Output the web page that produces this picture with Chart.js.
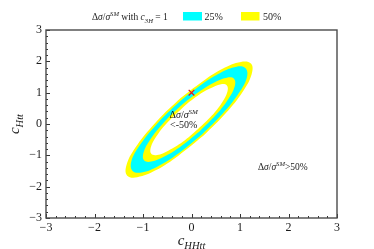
<!DOCTYPE html>
<html>
<head>
<meta charset="utf-8">
<script src="https://cdn.jsdelivr.net/npm/chart.js@4/dist/chart.umd.min.js"></script>
<style>
  html, body { margin: 0; padding: 0; background: #fff; }
  #wrap { width: 374px; height: 249px; }
</style>
</head>
<body>
<div id="wrap"><canvas id="chart"></canvas></div>
<script>
// ── Data ───────────────────────────────────────────────────────────────────
const AXIS_MIN = -3;
const AXIS_MAX = 3;
const SM_POINT = [[0, 1]];

// contour  Δσ/σ = +50%  (outer edge of the yellow band)
const PLUS_50 = [
  [0.25,-0.37],[-0.27,-1.01],[-0.74,-1.48],[-1.12,-1.70],[-1.33,-1.64],[-1.34,-1.31],
  [-1.16,-0.76],[-0.81,-0.07],[-0.35,0.65],[0.17,1.29],[0.64,1.76],[1.02,1.98],
  [1.23,1.92],[1.24,1.59],[1.06,1.04],[0.71,0.35],[0.25,-0.37]
];
// contour  Δσ/σ = +25%  (outer edge of the cyan band)
const PLUS_25 = [
  [0.22,-0.33],[-0.25,-0.92],[-0.69,-1.35],[-1.03,-1.55],[-1.22,-1.49],[-1.24,-1.19],
  [-1.07,-0.69],[-0.75,-0.06],[-0.32,0.61],[0.15,1.20],[0.59,1.63],[0.93,1.83],
  [1.12,1.77],[1.14,1.47],[0.97,0.97],[0.65,0.34],[0.22,-0.33]
];
// contour  Δσ/σ = -25%  (inner edge of the cyan band)
const MINUS_25 = [
  [0.17,-0.23],[-0.21,-0.70],[-0.56,-1.04],[-0.83,-1.20],[-0.98,-1.16],[-0.99,-0.92],
  [-0.86,-0.52],[-0.61,-0.02],[-0.27,0.51],[0.11,0.98],[0.46,1.32],[0.73,1.48],
  [0.88,1.44],[0.89,1.20],[0.76,0.80],[0.51,0.30],[0.17,-0.23]
];
// contour  Δσ/σ = -50%  (inner edge of the yellow band)
const MINUS_50 = [
  [0.13,-0.17],[-0.18,-0.57],[-0.48,-0.85],[-0.71,-0.99],[-0.83,-0.95],[-0.84,-0.75],
  [-0.73,-0.41],[-0.52,0.01],[-0.23,0.45],[0.08,0.85],[0.38,1.13],[0.61,1.27],
  [0.73,1.23],[0.74,1.03],[0.63,0.69],[0.42,0.27],[0.13,-0.17]
];

const CYAN   = '#00ffff';
const YELLOW = '#ffff00';
const INK    = '#1a1a1a';
const SERIF  = '"Liberation Serif", "DejaVu Serif", serif';

const toXY = arr => arr.map(([x, y]) => ({ x, y }));

function contour(points, color) {
  return {
    data: toXY(points),
    showLine: true,
    fill: 'shape',
    backgroundColor: color,
    borderColor: color,
    borderWidth: 0,
    pointRadius: 0,
    tension: 0.4,
  };
}

// ── Rich text helper (italics, super/subscripts) ───────────────────────────
function drawRich(ctx, parts, x, y, size, align) {
  const fontOf = p => (p.i ? 'italic ' : '') + ((p.sup || p.sub) ? size * 0.7 : size) + 'px ' + SERIF;
  let w = 0;
  parts.forEach(p => { ctx.font = fontOf(p); w += ctx.measureText(p.t).width; });
  let cx = align === 'center' ? x - w / 2 : align === 'right' ? x - w : x;
  ctx.textAlign = 'left';
  ctx.textBaseline = 'alphabetic';
  parts.forEach(p => {
    ctx.font = fontOf(p);
    const dy = p.sup ? -size * 0.4 : p.sub ? size * 0.28 : 0;
    ctx.fillText(p.t, cx, y + dy);
    cx += ctx.measureText(p.t).width;
  });
}

const DSIG = [{ t: 'Δ' }, { t: 'σ', i: true }, { t: '/' }, { t: 'σ', i: true }, { t: 'SM', i: true, sup: true }];

// ── Decorations: frame, inward ticks, titles, legend, labels ───────────────
const decor = {
  id: 'decor',
  afterDraw(chart) {
    const { ctx, chartArea: a, scales: { x: xs, y: ys } } = chart;
    ctx.save();

    // inward ticks
    ctx.strokeStyle = '#333';
    ctx.lineWidth = 1;
    for (let i = 0; i <= 30; i++) {
      const v = AXIS_MIN + i * 0.2;
      const major = i % 5 === 0;
      const len = major ? 4 : 2;
      const px = Math.round(xs.getPixelForValue(v)) + 0.5;
      const py = Math.round(ys.getPixelForValue(v)) + 0.5;
      ctx.beginPath();
      ctx.moveTo(px, a.bottom); ctx.lineTo(px, a.bottom - len);
      ctx.moveTo(a.left, py); ctx.lineTo(a.left + len, py);
      ctx.stroke();
    }

    // frame
    ctx.strokeStyle = '#4a4a4a';
    ctx.lineWidth = 1.4;
    ctx.strokeRect(a.left, a.top, a.right - a.left, a.bottom - a.top);

    ctx.fillStyle = INK;

    // axis titles
    drawRich(ctx, [{ t: 'c', i: true }, { t: 'HHtt', i: true, sub: true }], (a.left + a.right) / 2, 245, 15, 'center');
    ctx.save();
    ctx.translate(19, (a.top + a.bottom) / 2);
    ctx.rotate(-Math.PI / 2);
    drawRich(ctx, [{ t: 'c', i: true }, { t: 'Htt', i: true, sub: true }], 0, 0, 15, 'center');
    ctx.restore();

    // legend
    drawRich(ctx, DSIG.concat([{ t: ' with ' }, { t: 'c', i: true }, { t: '3H', i: true, sub: true }, { t: ' = 1' }]), 92, 20, 9.5, 'left');
    ctx.fillStyle = CYAN;
    ctx.fillRect(183, 12, 19, 8.5);
    ctx.fillStyle = YELLOW;
    ctx.fillRect(241, 12, 18.5, 8.5);
    ctx.fillStyle = INK;
    drawRich(ctx, [{ t: '25%' }], 204.5, 20, 10, 'left');
    drawRich(ctx, [{ t: '50%' }], 263, 20, 10, 'left');

    // region labels
    const cx = xs.getPixelForValue(-0.16);
    const cy = ys.getPixelForValue(0.19);
    drawRich(ctx, DSIG, cx, cy, 10, 'center');
    drawRich(ctx, [{ t: '<-50%' }], cx, cy + 10, 10, 'center');
    drawRich(ctx, DSIG.concat([{ t: '>50%' }]), xs.getPixelForValue(1.37), ys.getPixelForValue(-1.47), 9.5, 'left');

    ctx.restore();
  }
};

const tickLabel = v => (v < 0 ? '\u2212' + Math.abs(v) : String(v));

new Chart(document.getElementById('chart'), {
  type: 'scatter',
  data: {
    datasets: [
      {
        data: toXY(SM_POINT),
        pointStyle: 'crossRot',
        pointRadius: 4,
        pointBorderWidth: 1.2,
        pointBorderColor: '#e8151b',
        pointBackgroundColor: '#e8151b',
      },
      contour(MINUS_50, '#ffffff'),
      contour(MINUS_25, YELLOW),
      contour(PLUS_25, CYAN),
      contour(PLUS_50, YELLOW),
    ]
  },
  options: {
    responsive: true,
    maintainAspectRatio: false,
    animation: false,
    events: [],
    layout: { padding: { left: 0, top: 30, right: 37, bottom: 0 } },
    plugins: { legend: { display: false }, tooltip: { enabled: false } },
    scales: {
      x: {
        min: AXIS_MIN, max: AXIS_MAX,
        grid: { display: false, drawTicks: false },
        border: { display: false },
        ticks: { stepSize: 1, padding: 3, color: INK, font: { family: SERIF, size: 12 }, callback: tickLabel, maxRotation: 0 },
        afterFit: s => { s.height = 31; },
      },
      y: {
        min: AXIS_MIN, max: AXIS_MAX,
        grid: { display: false, drawTicks: false },
        border: { display: false },
        ticks: { stepSize: 1, padding: 4, color: INK, font: { family: SERIF, size: 12 }, callback: tickLabel },
        afterFit: s => { s.width = 46; },
      }
    }
  },
  plugins: [decor]
});
</script>
</body>
</html>
